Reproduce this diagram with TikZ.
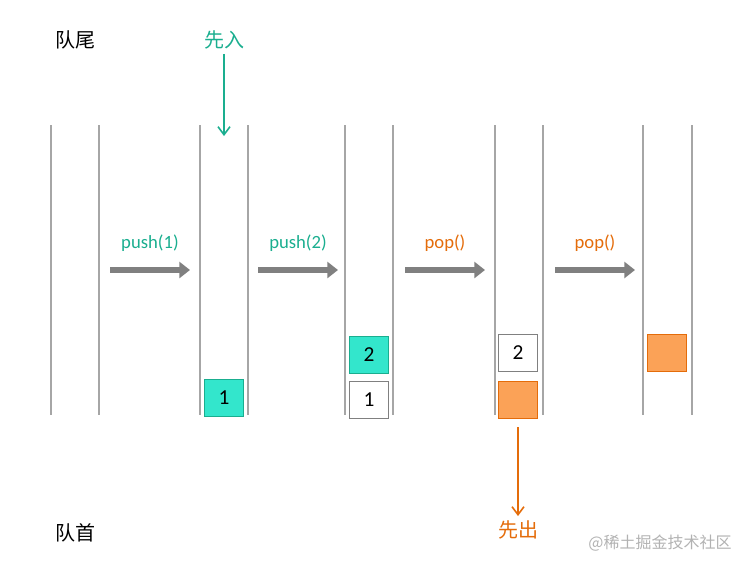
\documentclass[tikz,border=0pt]{standalone}
\usepackage{fontspec}
\setmainfont{Carlito}
\newfontfamily\cjk{Noto Sans CJK SC}
\usetikzlibrary{arrows.meta,positioning}
\definecolor{tealc}{HTML}{1AAE8F}
\definecolor{tealf}{HTML}{33E6CC}
\definecolor{orangec}{HTML}{E46C0A}
\definecolor{orangef}{HTML}{FBA257}
\tikzset{
  wall/.style  = {draw=gray!70, line width=1.2pt},
  item/.style  = {draw=gray, line width=1pt, minimum width=29.5pt, minimum height=28pt, inner sep=0pt, font=\fontsize{16}{16}\selectfont},
  itemin/.style = {item, fill=tealf, draw=tealc},
  itemout/.style = {item, fill=orangef, draw=orangec},
  step arrow/.style = {draw=gray, line width=5pt, -{Triangle[length=8pt,width=12pt]}},
  oplabel/.style = {font=\fontsize{14}{14}\selectfont},
  cnlabel/.style = {font=\cjk\fontsize{15}{15}\selectfont}
}
\begin{document}
\begin{tikzpicture}[x=0.75pt,y=-0.75pt]
\useasboundingbox (0,0) rectangle (746,569);

% labels at both ends
\node [cnlabel] (tail) at (75,40) {队尾};
\node [cnlabel] (head) at (75,533) {队首};

% the five queues
\foreach \l/\r in {51/99,200/248,345/393,495/543,643/692} {
  \draw [wall] (\l,125) -- (\l,415);
  \draw [wall] (\r,125) -- (\r,415);
}

% contents
\node [itemin] (a1) at (224,398) {1};
\node [itemin] (b2) at (369,355) {2};
\node [item] (b1) at (369,400) {1};
\node [item] (c2) at (518,353) {2};
\node [itemout] (c1) at (518,400) {};
\node [itemout] (d2) at (667,353) {};

% operations
\foreach \x/\t/\c [count=\i] in {110/push(1)/tealc,258/push(2)/tealc,405/pop()/orangec,555/pop()/orangec} {
  \coordinate (s\i) at (\x,270);
  \coordinate (e\i) at (\x+80,270);
  \draw [step arrow] (s\i) -- (e\i);
  \node [oplabel, text=\c] (op\i) at (\x+40,243) {\t};
}

% enter and leave
\node [cnlabel, text=tealc] (in) at (224,40) {先入};
\coordinate (inend) at (224,136);
\draw [tealc, line width=1.2pt, -{Straight Barb[length=6pt,width=9pt]}] (in.south) -- (inend);
\node [cnlabel, text=orangec] (out) at (518,530) {先出};
\draw [orangec, line width=1.2pt, -{Straight Barb[length=6pt,width=9pt]}] (c1.south) ++(0,8) coordinate (outstart) (outstart) -- (out.north);

\node [font=\cjk\fontsize{12}{12}\selectfont, text=gray!60] (mark) at (660,543) {@稀土掘金技术社区};
\end{tikzpicture}
\end{document}
